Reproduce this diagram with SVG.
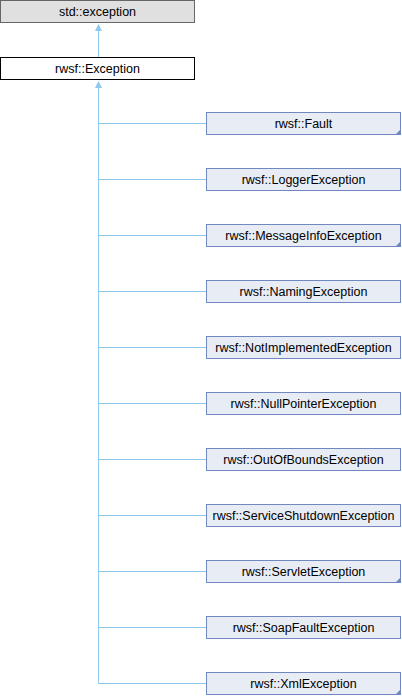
<svg xmlns="http://www.w3.org/2000/svg" width="402" height="696" viewBox="0 0 402 696">
<style>
.t{font-family:"Liberation Sans",Arial,sans-serif;font-size:12.5px;fill:#000;text-anchor:middle}
.c rect{fill:#e8ecf5;stroke:#7088c0;stroke-width:1}
.c path{fill:#7088c0}
.ln{stroke:#8ec8ec;stroke-width:1;fill:none}
.ah{fill:#8ec8ec}
</style>
<rect width="402" height="696" fill="#fff"/>
<g id="connectors">
<path class="ln" d="M98.5 29V57"/>
<path class="ah" d="M98.5 24L95 31H102Z"/>
<path class="ln" d="M98.5 86V683.5"/>
<path class="ah" d="M98.5 81L95 88H102Z"/>
<path class="ln" d="M98.5 123.5H206M98.5 179.5H206M98.5 235.5H206M98.5 291.5H206M98.5 347.5H206M98.5 403.5H206M98.5 459.5H206M98.5 515.5H206M98.5 571.5H206M98.5 627.5H206M98.5 683.5H206"/>
</g>
<g id="std_exception"><rect x="0.5" y="0.5" width="194" height="22" fill="#e0e0e0" stroke="#666"/><text class="t" x="97.5" y="16">std::exception</text></g>
<g id="rwsf_Exception"><rect x="0.5" y="57.5" width="194" height="22" fill="#fff" stroke="#000"/><text class="t" x="97.5" y="73">rwsf::Exception</text></g>
<g id="Fault" class="c"><rect x="206.5" y="112.5" width="194" height="22"/><path d="M401 129V135H395Z"/><text class="t" x="303.5" y="128">rwsf::Fault</text></g>
<g id="LoggerException" class="c"><rect x="206.5" y="168.5" width="194" height="22"/><text class="t" x="303.5" y="184">rwsf::LoggerException</text></g>
<g id="MessageInfoException" class="c"><rect x="206.5" y="224.5" width="194" height="22"/><path d="M401 241V247H395Z"/><text class="t" x="303.5" y="240">rwsf::MessageInfoException</text></g>
<g id="NamingException" class="c"><rect x="206.5" y="280.5" width="194" height="22"/><text class="t" x="303.5" y="296">rwsf::NamingException</text></g>
<g id="NotImplementedException" class="c"><rect x="206.5" y="336.5" width="194" height="22"/><text class="t" x="303.5" y="352">rwsf::NotImplementedException</text></g>
<g id="NullPointerException" class="c"><rect x="206.5" y="392.5" width="194" height="22"/><text class="t" x="303.5" y="408">rwsf::NullPointerException</text></g>
<g id="OutOfBoundsException" class="c"><rect x="206.5" y="448.5" width="194" height="22"/><text class="t" x="303.5" y="464">rwsf::OutOfBoundsException</text></g>
<g id="ServiceShutdownException" class="c"><rect x="206.5" y="504.5" width="194" height="22"/><text class="t" x="303.5" y="520">rwsf::ServiceShutdownException</text></g>
<g id="ServletException" class="c"><rect x="206.5" y="560.5" width="194" height="22"/><path d="M401 577V583H395Z"/><text class="t" x="303.5" y="576">rwsf::ServletException</text></g>
<g id="SoapFaultException" class="c"><rect x="206.5" y="616.5" width="194" height="22"/><text class="t" x="303.5" y="632">rwsf::SoapFaultException</text></g>
<g id="XmlException" class="c"><rect x="206.5" y="672.5" width="194" height="22"/><path d="M401 689V695H395Z"/><text class="t" x="303.5" y="688">rwsf::XmlException</text></g>
</svg>
